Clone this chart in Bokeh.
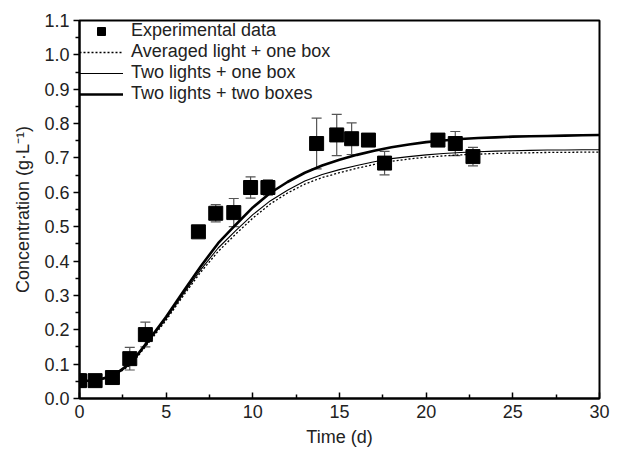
from bokeh.plotting import figure
from bokeh.models import ColumnDataSource, Whisker, TeeHead, FixedTicker, Legend, LegendItem, Range1d
from bokeh.embed import file_html
from bokeh.resources import INLINE

# Experimental data
exp_t = [0.0, 0.9, 1.9, 2.9, 3.8, 6.86, 7.86, 8.9, 9.87, 10.87, 13.68, 14.84, 15.7, 16.67, 17.6, 20.68, 21.68, 22.7]
exp_c = [0.052, 0.052, 0.061, 0.116, 0.186, 0.485, 0.539, 0.541, 0.614, 0.614, 0.742, 0.767, 0.756, 0.752, 0.685, 0.752, 0.742, 0.704]
exp_err = [0.02, 0.0, 0.0, 0.033, 0.036, 0.0, 0.025, 0.041, 0.031, 0.022, 0.074, 0.06, 0.046, 0.0, 0.034, 0.0, 0.035, 0.027]

# Model curves
model_t = [0, 1, 2, 3, 4, 5, 6, 7, 8, 9, 10, 11, 12, 13, 14, 15, 16, 17, 18, 19, 20, 21, 22, 23, 24, 25, 26, 27, 28, 29, 30]
avg_light_one_box = [0.05, 0.052, 0.065, 0.1, 0.163, 0.228, 0.3, 0.368, 0.428, 0.478, 0.525, 0.566, 0.598, 0.624, 0.643, 0.657, 0.67, 0.681, 0.69, 0.697, 0.702, 0.706, 0.709, 0.711, 0.713, 0.714, 0.715, 0.716, 0.716, 0.717, 0.717]
two_lights_one_box = [0.05, 0.052, 0.066, 0.103, 0.167, 0.232, 0.305, 0.375, 0.438, 0.488, 0.535, 0.575, 0.606, 0.633, 0.652, 0.666, 0.678, 0.689, 0.698, 0.704, 0.709, 0.713, 0.716, 0.718, 0.72, 0.721, 0.722, 0.723, 0.723, 0.724, 0.724]
two_lights_two_boxes = [0.05, 0.053, 0.068, 0.105, 0.17, 0.238, 0.312, 0.385, 0.452, 0.505, 0.556, 0.598, 0.63, 0.657, 0.678, 0.695, 0.709, 0.721, 0.731, 0.739, 0.746, 0.751, 0.755, 0.758, 0.76, 0.762, 0.763, 0.764, 0.765, 0.766, 0.767]

x_ticks = [0, 5, 10, 15, 20, 25, 30]
y_ticks = [0.0, 0.1, 0.2, 0.3, 0.4, 0.5, 0.6, 0.7, 0.8, 0.9, 1.0, 1.1]

FONT = "Liberation Sans"
FS = "18px"

p = figure(width=621, height=455, output_backend="svg", toolbar_location=None,
           x_range=Range1d(0, 30), y_range=Range1d(0, 1.1),
           min_border_left=79, min_border_right=22, min_border_top=20, min_border_bottom=57)
p.grid.visible = False
p.outline_line_color = "black"
p.outline_line_width = 2
p.background_fill_color = "white"
p.border_fill_color = "white"

lo = [c - e for c, e in zip(exp_c, exp_err)]
hi = [c + e for c, e in zip(exp_c, exp_err)]
src = ColumnDataSource(dict(t=exp_t, c=exp_c, lo=lo, hi=hi))

r_avg = p.line(model_t, avg_light_one_box, line_color="black", line_width=1.3, line_dash="2 2")
r_one = p.line(model_t, two_lights_one_box, line_color="black", line_width=1.1)
r_two = p.line(model_t, two_lights_two_boxes, line_color="black", line_width=2.6)

wh = Whisker(source=src, base="t", upper="hi", lower="lo", line_color="#555555", line_width=1.2,
             upper_head=TeeHead(size=10, line_color="#555555", line_width=1.2),
             lower_head=TeeHead(size=10, line_color="#555555", line_width=1.2))
p.add_layout(wh)
r_exp = p.scatter("t", "c", source=src, marker="square", size=14, fill_color="black", line_color="black")

xa = p.xaxis[0]
ya = p.yaxis[0]
xa.ticker = FixedTicker(ticks=x_ticks, minor_ticks=[2.5, 7.5, 12.5, 17.5, 22.5, 27.5])
ya.ticker = FixedTicker(ticks=y_ticks, minor_ticks=[0.05 + 0.1 * i for i in range(11)])
ya.major_label_overrides = {v: f"{v:.1f}" for v in y_ticks}

for ax in (xa, ya):
    ax.axis_line_width = 2
    ax.axis_line_color = "black"
    ax.major_tick_line_width = 1.5
    ax.minor_tick_line_width = 1.5
    ax.major_label_text_font = FONT
    ax.major_label_text_font_size = FS
    ax.major_label_text_color = "#222222"
    ax.axis_label_text_font = FONT
    ax.axis_label_text_font_size = FS
    ax.axis_label_text_font_style = "normal"
    ax.axis_label_text_color = "#222222"

xa.major_tick_in = 6
xa.major_tick_out = 0
xa.minor_tick_in = 4
xa.minor_tick_out = 0
xa.major_label_standoff = 6
xa.axis_label = "Time (d)"
xa.axis_label_standoff = 6

ya.major_tick_in = 0
ya.major_tick_out = 6
ya.minor_tick_in = 0
ya.minor_tick_out = 4
ya.major_label_standoff = 4
ya.axis_label = "Concentration (g·L⁻¹)"
ya.axis_label_standoff = 8

legend = Legend(items=[
    LegendItem(label="Experimental data", renderers=[r_exp]),
    LegendItem(label="Averaged light + one box", renderers=[r_avg]),
    LegendItem(label="Two lights + one box", renderers=[r_one]),
    LegendItem(label="Two lights + two boxes", renderers=[r_two]),
], location="top_left")
legend.border_line_color = None
legend.background_fill_alpha = 0
legend.margin = 0
legend.padding = 2
legend.spacing = 0
legend.glyph_width = 44
legend.glyph_height = 20
legend.label_height = 20
legend.label_standoff = 8
legend.label_text_font = FONT
legend.label_text_font_size = FS
legend.label_text_color = "#222222"
p.add_layout(legend)

open("out.html", "w").write(file_html(p, INLINE))
